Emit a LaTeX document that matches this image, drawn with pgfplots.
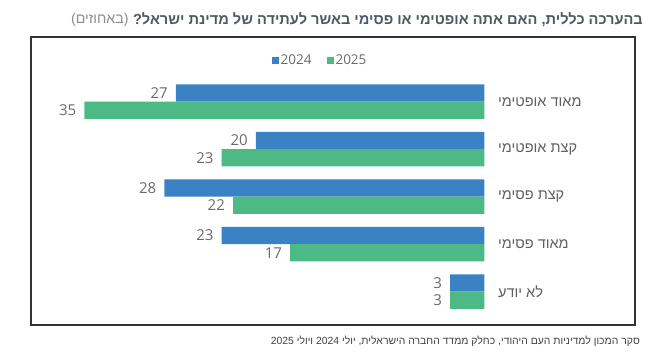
\documentclass[border=0pt]{standalone}
\usepackage{fontspec}
\usepackage{pgfplots}
\pgfplotsset{compat=1.18}
\setmainfont{Open Sans}
\newfontfamily\heb[Script=Hebrew]{Liberation Sans}
\TeXXeTstate=1
\definecolor{c24}{HTML}{3B82C5}
\definecolor{c25}{HTML}{4DBA85}
\definecolor{titlec}{HTML}{4F5963}
\definecolor{lblc}{HTML}{5F5F5F}
\definecolor{numc}{HTML}{6A6A6A}
\begin{document}
\begin{tikzpicture}[x=1pt,y=1pt]
\useasboundingbox (0pt,0pt) rectangle (659pt,362pt);
% frame
\draw[line width=1.4pt, color=black!80] (31pt,37pt) rectangle (635pt,325pt);
% title
\node[anchor=east, inner sep=0pt, text=titlec, font=\heb\bfseries\fontsize{14.6}{17}\selectfont] (T) at (643pt,342pt)
  {\beginR בהערכה כללית, האם אתה אופטימי או פסימי באשר לעתידה של מדינת ישראל?\endR};
\node[anchor=east, inner sep=0pt, text=black!45, font=\heb\fontsize{14.2}{17}\selectfont] at ([xshift=-4pt]T.east -| T.west)
  {\beginR(באחוזים)\endR};
% footer
\node[anchor=east, inner sep=0pt, text=black!75, font=\heb\fontsize{10.4}{12}\selectfont] at (640pt,21pt)
  {\beginR סקר המכון למדיניות העם היהודי, כחלק ממדד החברה הישראלית, יולי \beginL2024\endL{} ויולי \beginL2025\endL\endR};
\begin{axis}[
  at={(484.5pt,288.8pt)}, anchor=north east,
  scale only axis, width=444.5pt, height=247pt,
  x dir=reverse,
  xmin=0, xmax=38.89, ymin=-0.6, ymax=4.6,
  xbar, bar width=17.3pt,
  axis line style={draw=none},
  xtick=\empty, major tick length=0pt,
  /pgf/number format/assume math mode=true,
  ytick={0,1,2,3,4},
  yticklabel pos=right,
  yticklabels={
    {\beginR לא יודע\endR},
    {\beginR מאוד פסימי\endR},
    {\beginR קצת פסימי\endR},
    {\beginR קצת אופטימי\endR},
    {\beginR מאוד אופטימי\endR}},
  yticklabel style={anchor=west, inner sep=0pt, xshift=13.5pt, text=lblc, font=\heb\fontsize{14.5}{16}\selectfont},
  nodes near coords,
  every node near coord/.append style={anchor=east, inner sep=0pt, xshift=-8pt, text=numc, font=\fontsize{15}{16}\selectfont},
  legend style={at={(0.63,1.053)}, anchor=center, draw=none, fill=none,
    legend columns=2, font=\fontsize{13.5}{15}\selectfont, text=numc,
    /tikz/every even column/.append style={column sep=13pt}},
  legend image code/.code={\fill[#1] (0pt,-3.6pt) rectangle (7pt,3.4pt);},
  clip=false,
]
\addplot[fill=c24, draw=none, bar shift=8.65pt] coordinates {(3,0) (23,1) (28,2) (20,3) (27,4)};
\addplot[fill=c25, draw=none, bar shift=-8.65pt] coordinates {(3,0) (17,1) (22,2) (23,3) (35,4)};
\legend{2024,2025}
\end{axis}
\end{tikzpicture}
\end{document}
